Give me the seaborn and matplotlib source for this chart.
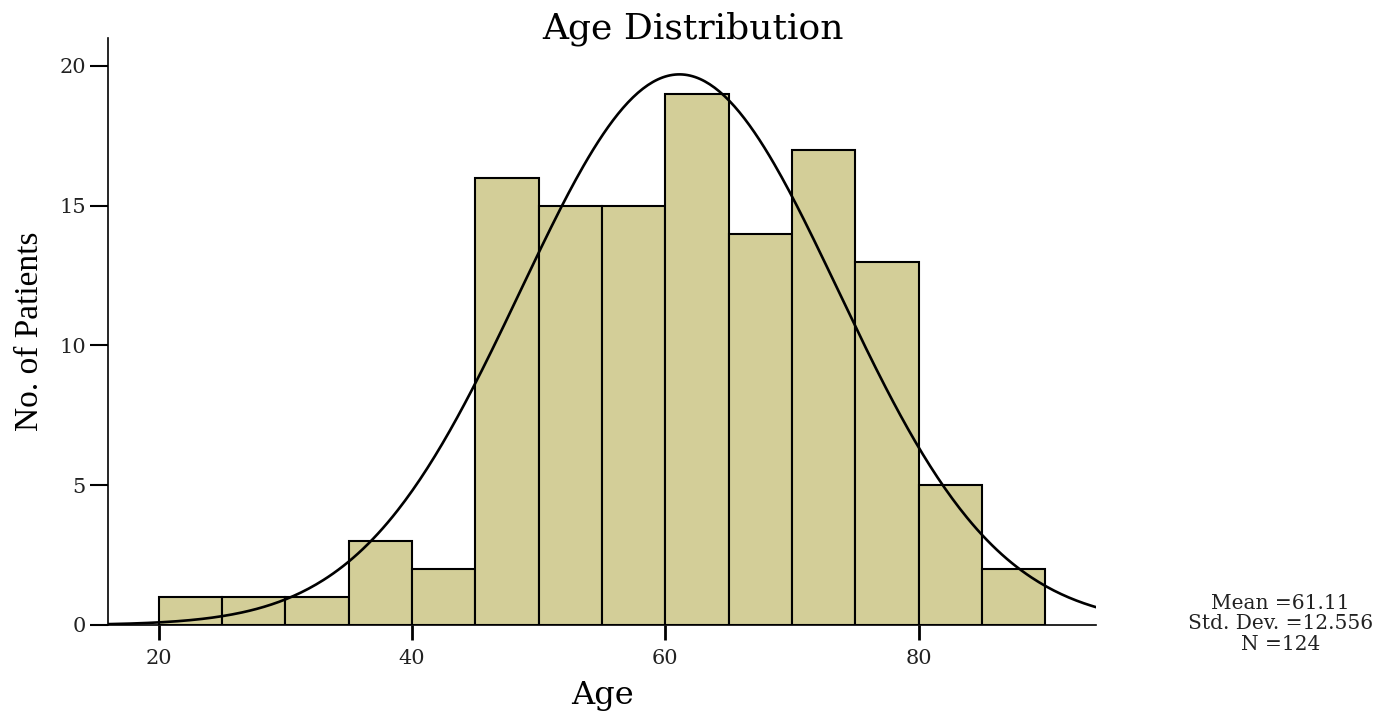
import numpy as np
import matplotlib
matplotlib.use("Agg")
import matplotlib.pyplot as plt
import seaborn as sns

# Data
bin_edges = [20, 25, 30, 35, 40, 45, 50, 55, 60, 65, 70, 75, 80, 85, 90]
counts = [1, 1, 1, 3, 2, 16, 15, 15, 19, 14, 17, 13, 5, 2]
mean_age = 61.11
std_age = 12.556
n_total = 124
x_ticks = [20, 40, 60, 80]
y_ticks = [0, 5, 10, 15, 20]

sns.set_theme(style="ticks")
plt.rcParams['font.family'] = ['DejaVu Serif', 'DejaVu Sans']

fig = plt.figure(figsize=(13.86, 7.12), dpi=100)
ax = fig.add_axes([0.0779, 0.1222, 0.7129, 0.8244])

centers = [(a + b) / 2 for a, b in zip(bin_edges[:-1], bin_edges[1:])]
sns.histplot(x=centers, weights=counts, bins=bin_edges, ax=ax,
             color="#D3CE98", edgecolor="black", linewidth=1.5, alpha=1.0)

xs = np.linspace(16, 94, 400)
bw = bin_edges[1] - bin_edges[0]
ys = n_total * bw / (std_age * np.sqrt(2 * np.pi)) * np.exp(-0.5 * ((xs - mean_age) / std_age) ** 2)
sns.lineplot(x=xs, y=ys, ax=ax, color="black", linewidth=1.9)

ax.set_xlim(16, 94)
ax.set_ylim(0, 21)
ax.set_xticks(x_ticks)
ax.set_yticks(y_ticks)
sns.despine(ax=ax)
for s in ["left", "bottom"]:
    ax.spines[s].set_linewidth(1.2)
    ax.spines[s].set_color("black")
ax.tick_params(axis="y", length=13, width=1.5, pad=3, labelsize=15, colors="black", labelcolor="#222222")
ax.tick_params(axis="x", length=11, width=2.0, pad=6, labelsize=15, colors="black", labelcolor="#222222")

ax.set_xlabel("Age", fontsize=23, labelpad=9, color="black")
ax.set_ylabel("No. of Patients", fontsize=24, labelpad=10, color="black",
              family=["Liberation Serif", "DejaVu Serif"])

fig.text(0.5, 0.946, "Age Distribution", ha="center", va="baseline", fontsize=26, color="black")

fig.text(0.924, 0.1236, f"Mean ={mean_age}\nStd. Dev. ={std_age}\nN ={n_total}",
         ha="center", va="center", fontsize=14.5, color="#222222", linespacing=1.1)

fig.savefig("out.png", dpi=100)
